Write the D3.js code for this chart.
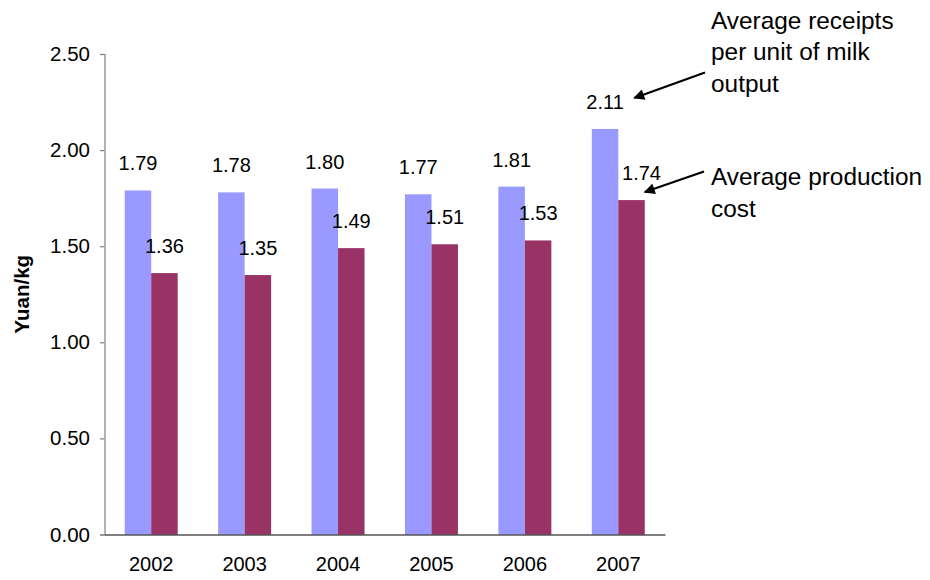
<!DOCTYPE html>
<html>
<head>
<meta charset="utf-8">
<script src="https://cdn.jsdelivr.net/npm/d3@7"></script>
<style>
  html, body { margin: 0; padding: 0; background: #fff; }
  svg { display: block; font-family: "Liberation Sans", Arial, sans-serif; }
</style>
</head>
<body>
<svg id="chart" width="930" height="580"></svg>
<script>
// Milk: receipts vs production cost, Yuan per kg
const years = ["2002", "2003", "2004", "2005", "2006", "2007"];
const receipts = [1.79, 1.78, 1.80, 1.77, 1.81, 2.11];
const costs = [1.36, 1.35, 1.49, 1.51, 1.53, 1.74];
const seriesNames = ["Average receipts per unit of milk output", "Average production cost"];
const yTicks = [0, 0.5, 1.0, 1.5, 2.0, 2.5];
const receiptsNote = ["Average receipts", "per unit of milk", "output"];
const costNote = ["Average production", "cost"];

const svg = d3.select("#chart");
const plotLeft = 104.5, plotRight = 665, plotTop = 54, plotBottom = 534.5;

const x = d3.scaleBand().domain(years).range([plotLeft, plotRight])
  .paddingInner(0.433).paddingOuter(0.2165);
const sub = d3.scaleBand().domain([0, 1]).range([0, x.bandwidth()]);
const y = d3.scaleLinear().domain([0, 2.5]).range([plotBottom, plotTop]);

const colors = ["#9999ff", "#993366"];
const series = [receipts, costs];
const last = years.length - 1;

const rows = years.map((yr, i) => ({ yr, i, vals: series.map(s => s[i]) }));

const groups = svg.append("g").selectAll("g").data(rows).join("g")
  .attr("transform", d => `translate(${x(d.yr)},0)`);

groups.selectAll("rect").data(d => d.vals.map((v, k) => ({ v, k })))
  .join("rect")
  .attr("x", d => sub(d.k))
  .attr("width", sub.bandwidth())
  .attr("y", d => y(d.v))
  .attr("height", d => y(0) - y(d.v))
  .attr("fill", d => colors[d.k]);

// Value labels; the last cost label is nudged right to clear the taller bar
groups.selectAll("text").data(d => d.vals.map((v, k) => ({ v, k, i: d.i })))
  .join("text")
  .attr("x", d => sub(d.k) + sub.bandwidth() / 2 + (d.k === 1 && d.i === last ? 10 : 0))
  .attr("y", d => y(d.v) - 20)
  .attr("text-anchor", "middle")
  .attr("font-size", 20)
  .attr("fill", "#000")
  .text(d => d.v.toFixed(2));

// Y axis
const yAxis = svg.append("g").attr("transform", `translate(${plotLeft},0)`)
  .call(d3.axisLeft(y).tickValues(yTicks).tickFormat(d3.format(".2f")).tickSize(4.5).tickPadding(10));
yAxis.select(".domain").attr("stroke", "#808080").attr("stroke-width", 1.2);
yAxis.selectAll(".tick line").attr("stroke", "#808080").attr("stroke-width", 1.2);
yAxis.selectAll(".tick text").attr("font-size", 20.5).attr("fill", "#000")
  .attr("font-family", "Liberation Sans, Arial, sans-serif");

// X axis
const xAxis = svg.append("g").attr("transform", `translate(0,${plotBottom})`)
  .call(d3.axisBottom(x).tickSize(0).tickPadding(22));
xAxis.select(".domain").attr("stroke", "#000").attr("stroke-width", 1.2);
xAxis.selectAll(".tick text").attr("font-size", 20).attr("fill", "#000")
  .attr("font-family", "Liberation Sans, Arial, sans-serif");

// Axis title
svg.append("text")
  .attr("transform", `translate(29,${(plotTop + plotBottom) / 2}) rotate(-90)`)
  .attr("text-anchor", "middle")
  .attr("font-size", 20.5)
  .attr("font-weight", "bold")
  .text("Yuan/kg");

// Arrow annotations
svg.append("defs").append("marker")
  .attr("id", "arrowhead")
  .attr("viewBox", "0 0 10 10")
  .attr("refX", 9).attr("refY", 5)
  .attr("markerWidth", 6).attr("markerHeight", 5)
  .attr("markerUnits", "strokeWidth")
  .attr("orient", "auto")
  .append("path").attr("d", "M0,0 L10,5 L0,10 Z").attr("fill", "#000");

const recTip = [x(years[last]) + sub(0) + sub.bandwidth() + 16, y(receipts[last]) - 31];
const costTip = [x(years[last]) + sub(1) + sub.bandwidth(), y(costs[last]) - 8];

svg.append("line")
  .attr("x1", 705).attr("y1", 72.5)
  .attr("x2", recTip[0]).attr("y2", recTip[1])
  .attr("stroke", "#000").attr("stroke-width", 2.2)
  .attr("marker-end", "url(#arrowhead)");
svg.append("line")
  .attr("x1", 704).attr("y1", 171.5)
  .attr("x2", costTip[0]).attr("y2", costTip[1])
  .attr("stroke", "#000").attr("stroke-width", 2.2)
  .attr("marker-end", "url(#arrowhead)");

function note(lines, x0, y0) {
  const t = svg.append("text").attr("font-size", 24.4).attr("fill", "#000");
  lines.forEach((s, i) => t.append("tspan").attr("x", x0).attr("y", y0 + i * 31.7).text(s));
}
note(receiptsNote, 711, 28.5);
note(costNote, 711, 185);
</script>
</body>
</html>
